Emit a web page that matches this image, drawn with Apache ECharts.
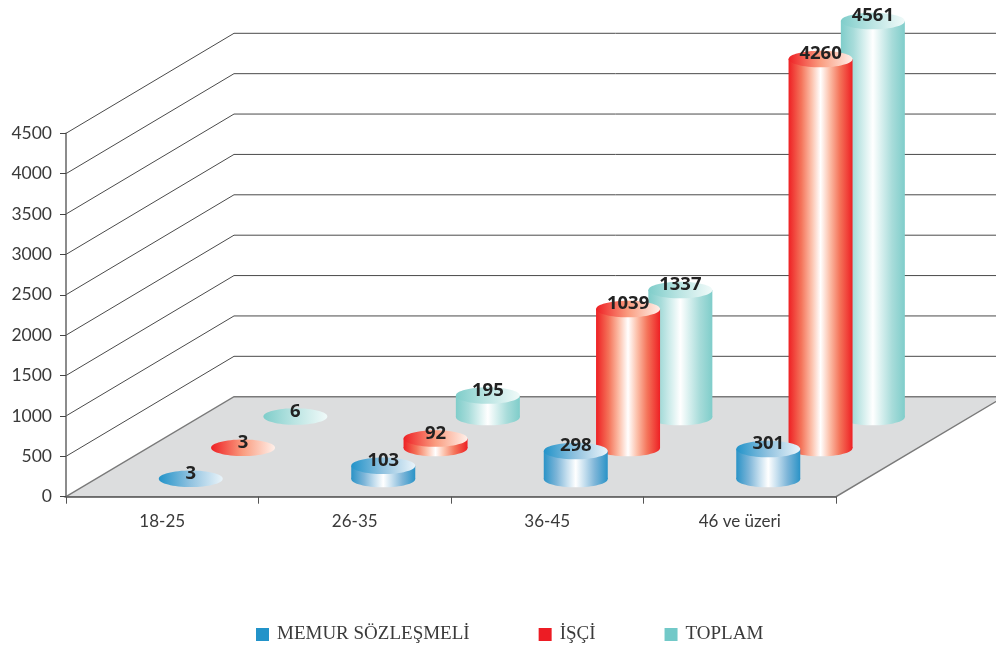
<!DOCTYPE html>
<html>
<head>
<meta charset="utf-8">
<style>
  html, body { margin: 0; padding: 0; background: #fff; }
  #chart { width: 996px; height: 646px; }
</style>
<script src="https://cdn.jsdelivr.net/npm/echarts@6/dist/echarts.min.js"></script>
</head>
<body>
<div id="chart"></div>
<script>
const categories = ['18-25', '26-35', '36-45', '46 ve üzeri']
const yTicks = [500, 1000, 1500, 2000, 2500, 3000, 3500, 4000, 4500]

// numbers printed above each cylinder
const memurLabels = [3, 103, 298, 301]
const isciLabels = [3, 92, 1039, 4260]
const toplamLabels = [6, 195, 1337, 4561]

// cylinder heights; the source drew them taller than the printed numbers
const memurHeights = [3, 165, 347, 372]
const isciHeights = [3, 118, 1721, 4817]
const toplamHeights = [6, 266, 1573, 4903]

const depthX = 168
const depthY = -100
const radiusX = 32
const radiusY = 8.3
const labelFont = '"Open Sans"'

function hGradient(stops) {
  return new echarts.graphic.LinearGradient(0, 0, 1, 0, stops.map((c, i) => ({
    offset: c[0],
    color: c[1]
  })))
}

// slot is the position of the series along the depth direction
function cylinder(slot, bodyStops, topStops) {
  return function (params, api) {
    const base = api.coord([api.value(0), 0])
    const top = api.coord([api.value(0), api.value(1)])
    const cx = base[0] + 28.5 + slot * 52.3
    const baseY = base[1] - 17.7 - slot * 31
    const topY = baseY - (base[1] - top[1])
    const children = []
    if (baseY - topY > 1) {
      children.push({
        type: 'ellipse',
        shape: { cx: cx, cy: baseY, rx: radiusX, ry: radiusY },
        style: { fill: hGradient(bodyStops) }
      }, {
        type: 'rect',
        shape: { x: cx - radiusX, y: topY, width: radiusX * 2, height: baseY - topY },
        style: { fill: hGradient(bodyStops) }
      })
    }
    children.push({
      type: 'ellipse',
      shape: { cx: cx, cy: topY, rx: radiusX, ry: radiusY },
      style: { fill: hGradient(topStops) }
    }, {
      type: 'text',
      style: {
        x: cx,
        y: topY - 5,
        text: String(api.value(2)),
        fill: '#222',
        font: 'bold 18.5px ' + labelFont,
        align: 'center',
        verticalAlign: 'middle'
      }
    })
    return { type: 'group', children: children }
  }
}

function bodyStops(edge, mid, light) {
  return [[0, edge], [0.2, mid], [0.36, light], [0.5, '#ffffff'], [0.64, light], [0.8, mid], [1, edge]]
}

function cylinderData(heights, labels) {
  return categories.map((c, i) => [i, heights[i], labels[i]])
}

function renderFloor(params, api) {
  const cs = params.coordSys
  const y = api.coord([0, 0])[1]
  return {
    type: 'polygon',
    shape: {
      points: [
        [cs.x, y],
        [cs.x + depthX, y + depthY],
        [cs.x + cs.width + depthX, y + depthY],
        [cs.x + cs.width, y]
      ]
    },
    style: { fill: '#dcddde', stroke: '#7a7a7a', lineWidth: 1.4 }
  }
}

function renderWallLine(params, api) {
  const cs = params.coordSys
  const y = api.coord([0, api.value(1)])[1]
  return {
    type: 'polyline',
    shape: {
      points: [
        [cs.x, y],
        [cs.x + depthX, y + depthY],
        [cs.x + cs.width + depthX, y + depthY]
      ]
    },
    style: { fill: null, stroke: '#4a4a4a', lineWidth: 1 }
  }
}

const chart = echarts.init(document.getElementById('chart'))

chart.setOption({
  animation: false,
  legend: {
    left: 251,
    top: 620,
    itemWidth: 13,
    itemHeight: 13,
    itemGap: 69,
    icon: 'rect',
    selectedMode: false,
    data: ['MEMUR SÖZLEŞMELİ', 'İŞÇİ', 'TOPLAM'],
    textStyle: { color: '#3a3a3a', fontSize: 19, fontFamily: 'Liberation Serif', padding: [0, 0, 0, 3] }
  },
  grid: { left: 66, top: 133.3, width: 770, height: 363.4 },
  xAxis: {
    type: 'category',
    data: categories,
    z: 3,
    axisLine: { lineStyle: { color: '#666', width: 1.5 } },
    axisTick: { show: true, length: 7, lineStyle: { color: '#555' } },
    axisLabel: { color: '#3a3a3a', fontSize: 17, fontFamily: 'Lato', margin: 16 }
  },
  yAxis: {
    type: 'value',
    min: 0,
    max: 4500,
    interval: 500,
    z: 3,
    splitLine: { show: false },
    axisLine: { show: true, lineStyle: { color: '#666', width: 1.5 } },
    axisTick: { show: true, length: 6, lineStyle: { color: '#444' } },
    axisLabel: {
      color: '#3a3a3a',
      fontSize: 17.5,
      fontFamily: 'Lato',
      margin: 14,
      padding: [3, 0, 0, 0],
      formatter: (v) => String(v)
    }
  },
  series: [
    {
      type: 'custom',
      silent: true,
      z: 1,
      renderItem: renderFloor,
      data: [[0, 0]]
    },
    {
      type: 'custom',
      silent: true,
      z: 1,
      renderItem: renderWallLine,
      data: yTicks.map((v) => [0, v])
    },
    {
      name: 'MEMUR SÖZLEŞMELİ',
      type: 'custom',
      z: 6,
      itemStyle: { color: '#2293c9' },
      renderItem: cylinder(0,
        bodyStops('#2a93c7', '#7db5d8', '#c4deee'),
        [[0, '#2293c9'], [0.5, '#92c3e0'], [1, '#eaf4fa']]),
      data: cylinderData(memurHeights, memurLabels)
    },
    {
      name: 'İŞÇİ',
      type: 'custom',
      z: 5,
      itemStyle: { color: '#ed1c24' },
      renderItem: cylinder(1,
        bodyStops('#ee2024', '#f4745a', '#fcc0aa'),
        [[0, '#ee2024'], [0.5, '#fa9d80'], [1, '#fff0ea']]),
      data: cylinderData(isciHeights, isciLabels)
    },
    {
      name: 'TOPLAM',
      type: 'custom',
      z: 4,
      itemStyle: { color: '#72c9c8' },
      renderItem: cylinder(2,
        bodyStops('#7fcdca', '#a8dcda', '#d6efee'),
        [[0, '#7fcdca'], [0.5, '#bce5e3'], [1, '#f0faf9']]),
      data: cylinderData(toplamHeights, toplamLabels)
    }
  ]
})
</script>
</body>
</html>
